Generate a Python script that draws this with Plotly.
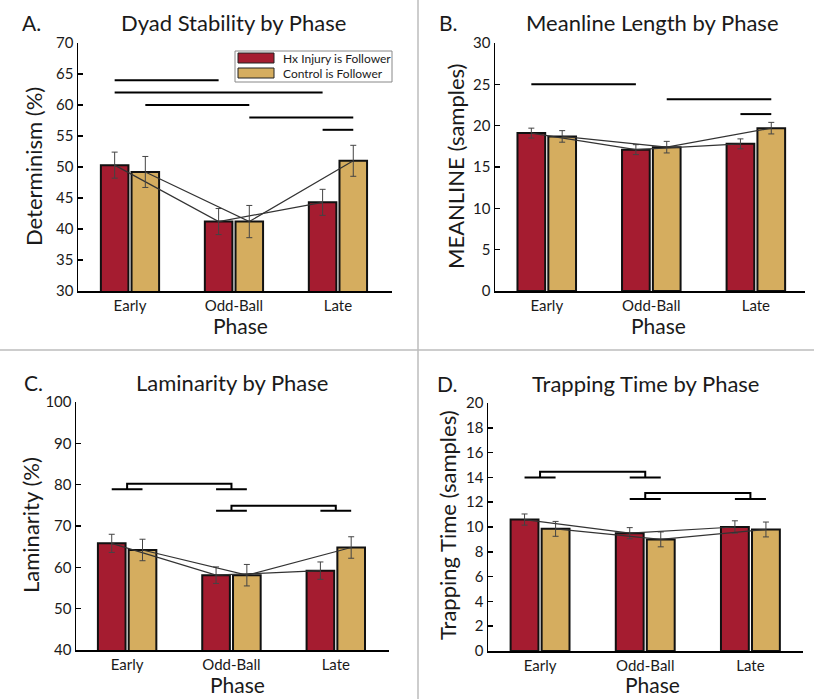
import plotly.graph_objects as go

# ---------------- data ----------------
phases = ["Early", "Odd-Ball", "Late"]
series_names = ["Hx Injury is Follower", "Control is Follower"]

det_hx = [50.3, 41.2, 44.3]
det_hx_err = [2.1, 2.1, 2.1]
det_ctrl = [49.2, 41.2, 51.0]
det_ctrl_err = [2.5, 2.6, 2.5]

meanline_hx = [19.1, 17.1, 17.8]
meanline_hx_err = [0.6, 0.6, 0.6]
meanline_ctrl = [18.7, 17.4, 19.7]
meanline_ctrl_err = [0.7, 0.7, 0.7]

lam_hx = [65.8, 58.1, 59.2]
lam_hx_err = [2.2, 2.0, 2.1]
lam_ctrl = [64.2, 58.1, 64.8]
lam_ctrl_err = [2.6, 2.6, 2.6]

trap_hx = [10.6, 9.5, 10.0]
trap_hx_err = [0.45, 0.45, 0.5]
trap_ctrl = [9.85, 9.0, 9.8]
trap_ctrl_err = [0.6, 0.6, 0.6]

# significance lines: (phase_a, series_a, phase_b, series_b, y)
det_sig = [(0, 0, 1, 0, 64), (0, 0, 2, 0, 62), (0, 1, 1, 1, 60), (1, 1, 2, 1, 58), (2, 0, 2, 1, 56)]
meanline_sig = [(0, 0, 1, 0, 25), (1, 1, 2, 1, 23.2), (2, 0, 2, 1, 21.4)]
# brackets: (phase_a, phase_b, y_top, y_foot)
lam_brackets = [(0, 1, 80.2, 78.9), (1, 2, 74.9, 73.7)]
trap_brackets = [(0, 1, 14.45, 14.0), (1, 2, 12.75, 12.25)]

# ---------------- style ----------------
W, H = 814, 699
RED = "#A51C30"
GOLD = "#D5AD5F"
BAR_W = 0.265
GAP = 0.015
OFFS = [-(BAR_W / 2 + GAP), (BAR_W / 2 + GAP)]
FONT = "Lato"
TXT = "#1a1a1a"


def px(x):
    return x / W


def py(y):
    return 1 - y / H


panels = [
    dict(key="", name="A.", title="Dyad Stability by Phase", ytitle="Determinism (%)",
         hx=det_hx, hxe=det_hx_err, ct=det_ctrl, cte=det_ctrl_err,
         yr=[30, 70], dt=5, xr=[-0.5, 2.52],
         dom_x=[78, 392], dom_y=[43, 291],
         letter=(20, 23), tpos=(233, 23), ytpos=(33, 167), ppos=(240, 325),
         sig=det_sig, br=[]),
    dict(key="2", name="B.", title="Meanline Length by Phase", ytitle="MEANLINE (samples)",
         hx=meanline_hx, hxe=meanline_hx_err, ct=meanline_ctrl, cte=meanline_ctrl_err,
         yr=[0, 30], dt=5, xr=[-0.495, 2.47],
         dom_x=[495, 805], dom_y=[43, 291],
         letter=(437, 23), tpos=(652, 23), ytpos=(455, 166), ppos=(658, 325),
         sig=meanline_sig, br=[]),
    dict(key="3", name="C.", title="Laminarity by Phase", ytitle="Laminarity (%)",
         hx=lam_hx, hxe=lam_hx_err, ct=lam_ctrl, cte=lam_ctrl_err,
         yr=[40, 100], dt=10, xr=[-0.49, 2.51],
         dom_x=[76, 389], dom_y=[402, 650],
         letter=(22, 382), tpos=(232, 382), ytpos=(30, 525), ppos=(237, 684),
         sig=[], br=lam_brackets),
    dict(key="4", name="D.", title="Trapping Time by Phase", ytitle="Trapping Time (samples)",
         hx=trap_hx, hxe=trap_hx_err, ct=trap_ctrl, cte=trap_ctrl_err,
         yr=[0, 20], dt=2, xr=[-0.495, 2.5],
         dom_x=[488, 803], dom_y=[403, 651],
         letter=(435, 383), tpos=(645, 383), ytpos=(447, 525), ppos=(652, 684),
         sig=[], br=trap_brackets),
]

fig = go.Figure()
shapes = []
annotations = []
xs = list(range(len(phases)))

for p in panels:
    xa = "x" + p["key"]
    ya = "y" + p["key"]
    vals = [(p["hx"], p["hxe"], RED), (p["ct"], p["cte"], GOLD)]
    for si, (v, e, col) in enumerate(vals):
        fig.add_trace(go.Bar(
            x=xs, y=v, width=BAR_W, offset=OFFS[si] - BAR_W / 2,
            marker=dict(color=col, line=dict(color="#111111", width=2)),
            name=series_names[si], showlegend=False, xaxis=xa, yaxis=ya,
        ))
    for si, (v, e, col) in enumerate(vals):
        fig.add_trace(go.Scatter(
            x=[i + OFFS[si] for i in xs], y=v, mode="lines",
            line=dict(color="#333333", width=1.2),
            error_y=dict(type="data", array=e, visible=True, color="#444444",
                         thickness=1, width=3),
            showlegend=False, xaxis=xa, yaxis=ya, hoverinfo="skip",
        ))
    for (ga, sa, gb, sb, yv) in p["sig"]:
        shapes.append(dict(type="line", xref=xa, yref=ya,
                           x0=ga + OFFS[sa], x1=gb + OFFS[sb], y0=yv, y1=yv,
                           line=dict(color="black", width=2)))
    for (ga, gb, yt, yf) in p["br"]:
        path = (f"M {ga + OFFS[0]},{yf} L {ga + OFFS[1]},{yf} "
                f"M {ga},{yf} L {ga},{yt} L {gb},{yt} L {gb},{yf} "
                f"M {gb + OFFS[0]},{yf} L {gb + OFFS[1]},{yf}")
        shapes.append(dict(type="path", xref=xa, yref=ya, path=path,
                           line=dict(color="black", width=2)))

    axx = dict(domain=[px(p["dom_x"][0]), px(p["dom_x"][1])], range=p["xr"],
               tickvals=xs, ticktext=phases, showline=True, linecolor="black",
               linewidth=1.5, ticks="", showgrid=False, zeroline=False, automargin=False,
               tickfont=dict(family=FONT, size=15, color=TXT), anchor=ya, fixedrange=True)
    axy = dict(domain=[py(p["dom_y"][1]), py(p["dom_y"][0])], range=p["yr"],
               dtick=p["dt"], tick0=0, showline=True, linecolor="black", linewidth=1.5,
               ticks="inside", ticklen=5, tickwidth=1.5, tickcolor="black",
               showgrid=False, zeroline=False, automargin=False,
               tickfont=dict(family=FONT, size=15, color=TXT), anchor=xa, fixedrange=True)
    fig.update_layout(**{"xaxis" + p["key"]: axx, "yaxis" + p["key"]: axy})

    annotations.append(dict(text=p["name"], x=px(p["letter"][0]), y=py(p["letter"][1]),
                            xref="paper", yref="paper", xanchor="left", yanchor="middle",
                            showarrow=False, font=dict(family=FONT, size=21, color=TXT)))
    annotations.append(dict(text=p["title"], x=px(p["tpos"][0]), y=py(p["tpos"][1]),
                            xref="paper", yref="paper", xanchor="center", yanchor="middle",
                            showarrow=False, font=dict(family=FONT, size=22, color=TXT)))
    annotations.append(dict(text=p["ytitle"], x=px(p["ytpos"][0]), y=py(p["ytpos"][1]),
                            xref="paper", yref="paper", xanchor="center", yanchor="middle",
                            textangle=-90, showarrow=False,
                            font=dict(family=FONT, size=22, color=TXT)))
    annotations.append(dict(text="Phase", x=px(p["ppos"][0]), y=py(p["ppos"][1]),
                            xref="paper", yref="paper", xanchor="center", yanchor="middle",
                            showarrow=False, font=dict(family=FONT, size=21, color=TXT)))

# manual legend in panel A
shapes.append(dict(type="rect", xref="paper", yref="paper",
                   x0=px(235), x1=px(392), y0=py(82), y1=py(51),
                   line=dict(color="#888888", width=1), fillcolor="white", layer="above"))
for i, (nm, col) in enumerate(zip(series_names, [RED, GOLD])):
    yc = 58 + 15 * i
    shapes.append(dict(type="rect", xref="paper", yref="paper",
                       x0=px(238), x1=px(274), y0=py(yc + 5), y1=py(yc - 5),
                       line=dict(color="#222222", width=1), fillcolor=col, layer="above"))
    annotations.append(dict(text=nm, x=px(281), y=py(yc), xref="paper", yref="paper",
                            xanchor="left", yanchor="middle", showarrow=False,
                            font=dict(family=FONT, size=12, color=TXT)))

# panel dividers
shapes.append(dict(type="line", xref="paper", yref="paper", x0=px(418), x1=px(418), y0=0, y1=1,
                   line=dict(color="#bdbdbd", width=1.5)))
shapes.append(dict(type="line", xref="paper", yref="paper", x0=0, x1=1, y0=py(350), y1=py(350),
                   line=dict(color="#bdbdbd", width=1.5)))

fig.update_layout(
    width=W, height=H, margin=dict(l=0, r=0, t=0, b=0, pad=0), autosize=False,
    paper_bgcolor="white", plot_bgcolor="white",
    barmode="overlay", showlegend=False, hovermode=False,
    shapes=shapes, annotations=annotations,
    font=dict(family=FONT, color=TXT),
)

fig.write_html(
    "out.html",
    config={"displayModeBar": False, "staticPlot": True},
    post_script="document.body.style.margin='0px';document.body.style.overflow='hidden';",
)
